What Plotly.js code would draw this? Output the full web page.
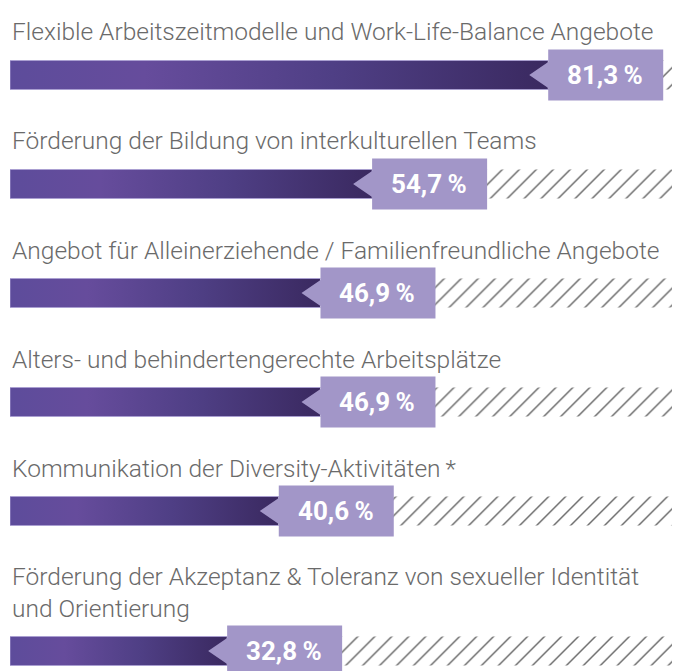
<!DOCTYPE html>
<html>
<head>
<meta charset="utf-8">
<script src="https://cdn.plot.ly/plotly-3.0.1.min.js"></script>
<style>html,body{margin:0;padding:0;background:#fff;}#chart{width:675px;height:671px;}</style>
</head>
<body>
<div id="chart"></div>
<script>
var categories = [
  "Flexible Arbeitszeitmodelle und Work-Life-Balance Angebote",
  "Förderung der Bildung von interkulturellen Teams",
  "Angebot für Alleinerziehende / Familienfreundliche Angebote",
  "Alters- und behindertengerechte Arbeitsplätze",
  "Kommunikation der Diversity-Aktivitäten\u2009*",
  "Förderung der Akzeptanz &amp; Toleranz von sexueller Identität<br>und Orientierung"
];
var values = [81.3, 54.7, 46.9, 46.9, 40.6, 32.8];
var valueLabels = ["81,3\u2009%", "54,7\u2009%", "46,9\u2009%", "46,9\u2009%", "40,6\u2009%", "32,8\u2009%"];

// layout helpers (pixel-based y axis: 1 unit = 1 px)
var firstCenter = 75, rowPitch = 109, lineH = 31, barH = 29;
var centers = [];
var acc = firstCenter;
categories.forEach(function (c) {
  var extra = (c.split("<br>").length - 1) * lineH;
  centers.push(acc + extra);
  acc += rowPitch + extra;
});

var titleFont = "Roboto, sans-serif";

var traces = [
  {
    type: "bar", orientation: "h",
    x: values, y: centers, base: 0, width: barH,
    marker: { color: "#52418a", line: { width: 0 } },
    hoverinfo: "skip", showlegend: false
  },
  {
    type: "bar", orientation: "h",
    x: values.map(function (v) { return 100 - v; }), base: values, y: centers, width: barH,
    marker: {
      color: "white",
      line: { width: 0 },
      pattern: { shape: "/", fgcolor: "#6a6a6a", bgcolor: "white", size: 12, solidity: 0.12 }
    },
    hoverinfo: "skip", showlegend: false
  }
];

var shapes = [], annotations = [];
values.forEach(function (v, i) {
  shapes.push({
    type: "path", xref: "x", yref: "y",
    xsizemode: "pixel", ysizemode: "pixel",
    xanchor: v, yanchor: centers[i],
    path: "M0,-25.5 L115,-25.5 L115,25.5 L0,25.5 L0,13 L-19,0 L0,-13 Z",
    fillcolor: "#a296c8", line: { width: 0 }, layer: "above"
  });
  annotations.push({
    x: v, y: centers[i], xref: "x", yref: "y", xanchor: "center", yanchor: "middle",
    xshift: 57, showarrow: false, text: valueLabels[i],
    font: { family: "Roboto, sans-serif", size: 26, weight: 700, color: "white" }
  });
  annotations.push({
    x: 0, y: centers[i] - barH / 2, xref: "x", yref: "y", xanchor: "left", yanchor: "bottom",
    yshift: 12, showarrow: false, align: "left", text: categories[i],
    font: { family: titleFont, size: 24.5, weight: 300, color: "#6a6a6a" }
  });
});

var layout = {
  width: 675, height: 671,
  margin: { l: 10, r: 3, t: 0, b: 0, pad: 0 },
  paper_bgcolor: "white", plot_bgcolor: "white",
  barmode: "overlay",
  xaxis: { range: [0, 100], visible: false, fixedrange: true },
  yaxis: { range: [671, 0], visible: false, fixedrange: true },
  shapes: shapes, annotations: annotations
};

Plotly.newPlot("chart", traces, layout, { staticPlot: true, displayModeBar: false }).then(function (gd) {
  var svgNS = "http://www.w3.org/2000/svg";
  var defs = gd.querySelector(".main-svg defs");
  var grad = document.createElementNS(svgNS, "linearGradient");
  grad.setAttribute("id", "barGrad");
  grad.setAttribute("x1", "0"); grad.setAttribute("x2", "1");
  grad.setAttribute("y1", "0"); grad.setAttribute("y2", "0");
  [["0", "#5d4c9b"], ["0.25", "#664c9c"], ["0.6", "#4f3f85"], ["1", "#3a2960"]].forEach(function (s) {
    var st = document.createElementNS(svgNS, "stop");
    st.setAttribute("offset", s[0]); st.setAttribute("stop-color", s[1]);
    grad.appendChild(st);
  });
  defs.appendChild(grad);
  var tr = gd.querySelectorAll(".barlayer .trace")[0];
  tr.querySelectorAll("path").forEach(function (p) {
    p.style.fill = "url(#barGrad)";
    p.style.stroke = "rgba(170,158,210,0.9)";
    p.style.strokeWidth = "1px";
  });
});
</script>
</body>
</html>
